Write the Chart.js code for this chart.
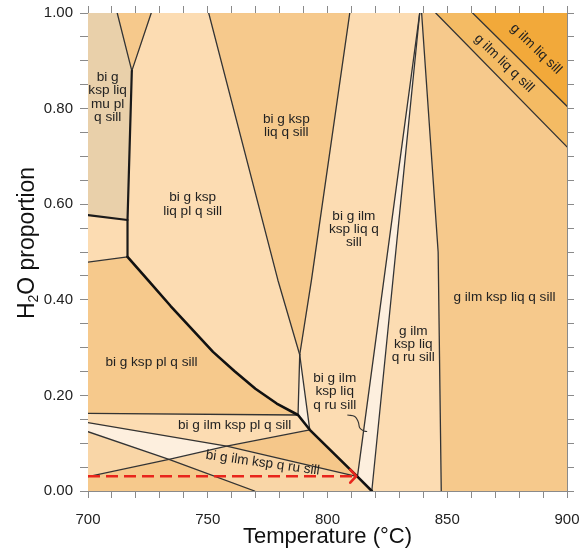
<!DOCTYPE html>
<html>
<head>
<meta charset="utf-8">
<script src="https://cdn.jsdelivr.net/npm/chart.js@4.4.1/dist/chart.umd.min.js"></script>
<style>
  html, body { margin: 0; padding: 0; background: #ffffff; }
  #wrap { width: 587px; height: 550px; }
</style>
</head>
<body>
<div id="wrap"><canvas id="chart" width="587" height="550"></canvas></div>
<script>
// ---- Axes -----------------------------------------------------------------
const T_RANGE = [700, 900];
const H_RANGE = [0, 1];
const T_TICK_LABELS = [700, 750, 800, 850, 900];
const H_TICK_LABELS = [0.0, 0.2, 0.4, 0.6, 0.8, 1.0];

// ---- Corner and junction points of the field boundaries, [T (°C), H2O] --
const pTopLeft    = [700.0, 1.000];
const pTopRight   = [900.0, 1.000];
const pBotLeft    = [700.0, 0.000];
const pBotRight   = [900.0, 0.000];
const pMuTop1     = [712.2, 1.000];
const pMuTop2     = [726.4, 1.000];
const pMuKink     = [718.3, 0.879];
const pMuBase     = [716.5, 0.567];
const pMuLeft     = [700.0, 0.577];
const pPlCorner   = [716.5, 0.490];
const pPlLeft     = [700.0, 0.479];
const pKspTop1    = [750.4, 1.000];
const pKspMid1    = [779.3, 0.441];
const pKspTip     = [788.4, 0.285];
const pKspTop2    = [809.3, 1.000];
const pKspMid2    = [793.3, 0.441];
const pIlmIn      = [787.7, 0.159];
const pRuIn       = [792.6, 0.128];
const pArrowTip   = [812.5, 0.030];
const pBiOut      = [818.5, 0.000];
const pSliverTop  = [838.5, 1.000];
const pBiOutTop   = [839.3, 1.000];
const pKspOutMid  = [846.2, 0.500];
const pKspOut     = [847.5, 0.000];
const pQTop       = [845.2, 1.000];
const pQRight     = [900.0, 0.720];
const pSillTop    = [860.6, 1.000];
const pSillRight  = [900.0, 0.805];
const pIlmLeft    = [700.0, 0.1625];
const pL1Left     = [700.0, 0.143];
const pL3Left     = [700.0, 0.124];
const pL2Left     = [700.0, 0.030];
const pX12        = [757.9, 0.094];
const pX23        = [733.8, 0.066];
const pL3Bot      = [769.6, 0.000];

// plagioclase-out curve (heavy line)
const plOutCurve = [pPlCorner, [725.6, 0.438], [734.5, 0.387], [743.3, 0.339],
                    [752.2, 0.291], [761.1, 0.251], [769.9, 0.214], [778.8, 0.183], pIlmIn];

// ---- Stability fields (closed polygons) -----------------------------------
const fieldMu        = [pTopLeft, pMuTop1, pMuKink, pMuBase, pMuLeft];
const fieldTopWedge  = [pMuTop1, pMuTop2, pMuKink];
const fieldLiqPl     = [pMuTop2, pKspTop1, pKspMid1, pKspTip, ...plOutCurve.slice().reverse(), pMuBase, pMuKink];
const fieldLeftStrip = [pMuLeft, pMuBase, pPlCorner, pPlLeft];
const fieldKspPl     = [pPlLeft, ...plOutCurve, pIlmLeft];
const fieldKspLiq    = [pKspTop1, pKspTop2, pKspMid2, pKspTip, pKspMid1];
const fieldWedge     = [pKspTip, pRuIn, pIlmIn];
const fieldIlmLiq    = [pKspTop2, pSliverTop, pArrowTip, pRuIn, pKspTip, pKspMid2];
const fieldSliver    = [pSliverTop, pBiOut, pArrowTip];
const fieldRuLiq     = [pSliverTop, pBiOutTop, pKspOutMid, pKspOut, pBiOut];
const fieldGIlmKsp   = [pBiOutTop, pQTop, pQRight, pBotRight, pKspOut, pKspOutMid];
const fieldQBand     = [pQTop, pSillTop, pSillRight, pQRight];
const fieldSillCorner= [pSillTop, pTopRight, pSillRight];
const fieldIlmPl     = [pIlmLeft, pIlmIn, pRuIn, pX12, pL1Left];
const fieldPale      = [pL1Left, pX12, pX23, pL3Left];
const fieldLeftTri   = [pL3Left, pX23, pL2Left];
const fieldBotLeft   = [pL2Left, pX23, pL3Bot, pBotLeft];
const fieldDarkTri   = [pX12, pRuIn, pArrowTip];
const fieldRuPl      = [pX23, pX12, pArrowTip, pBiOut, pL3Bot];

// ---- Boundary lines -------------------------------------------------------
const thinLines = [
  [pMuTop1, pMuKink], [pMuTop2, pMuKink],
  [pPlLeft, pPlCorner],
  [pKspTop1, pKspMid1, pKspTip],
  [pKspTop2, pKspMid2, pKspTip],
  [pKspTip, pIlmIn], [pKspTip, pRuIn],
  [pSliverTop, pArrowTip], [pSliverTop, pBiOut],
  [pBiOutTop, pKspOutMid, pKspOut],
  [pQTop, pQRight], [pSillTop, pSillRight],
  [pIlmLeft, pIlmIn],
  [pL1Left, pX12, pArrowTip],
  [pL2Left, pX23, pX12, pRuIn],
  [pL3Left, pX23, pL3Bot]
];
const mediumLines = [[pMuLeft, pMuBase], [pMuKink, pMuBase, pPlCorner]];
const heavyLines  = [[...plOutCurve, pRuIn, pArrowTip, pBiOut]];

// heating path (red arrow) and the leader to the thin field
const heatingPath = [[700.0, 0.031], [812.0, 0.031]];
const leaderLine  = [[808.45, 0.159], [811.4, 0.1559], [812.85, 0.1444],
                     [813.5, 0.1318], [815.15, 0.1255], [816.4, 0.1245]];

// ---- Field labels ---------------------------------------------------------
const fieldLabels = [
  { lines: ['bi g', 'ksp liq', 'mu pl', 'q sill'], at: [708.2, 0.8236], angle: 0 },
  { lines: ['bi g ksp', 'liq pl q sill'], at: [743.7, 0.5998], angle: 0 },
  { lines: ['bi g ksp', 'liq q sill'], at: [782.8, 0.7647], angle: 0 },
  { lines: ['bi g ilm', 'ksp liq q', 'sill'], at: [811.0, 0.5477], angle: 0 },
  { lines: ['g ilm', 'ksp liq', 'q ru sill'], at: [835.8, 0.3071], angle: 0 },
  { lines: ['bi g ilm', 'ksp liq', 'q ru sill'], at: [803.0, 0.2077], angle: 0 },
  { lines: ['g ilm ksp liq q sill'], at: [873.9, 0.4059], angle: 0 },
  { lines: ['g ilm liq q sill'], at: [873.7, 0.8948], angle: 44 },
  { lines: ['g ilm liq sill'], at: [887.0, 0.9247], angle: 44 },
  { lines: ['bi g ksp pl q sill'], at: [726.5, 0.2688], angle: 0 },
  { lines: ['bi g ilm ksp pl q sill'], at: [761.2, 0.1380], angle: 0 },
  { lines: ['bi g ilm ksp q ru sill'], at: [772.9, 0.0586], angle: 8 }
];

// ---- Styling --------------------------------------------------------------
const FONT = "'Liberation Sans', Arial, Helvetica, sans-serif";
const C_PEACH = '#fcdcb2', C_TAN = '#f6c98c', C_GREY = '#e9d0aa', C_PALE = '#fdefde';
const C_BAND = '#f4bb64', C_ORANGE = '#f2a93a', C_PEACH2 = '#f9d6a7', C_TAN2 = '#f5c78a';
const AXIS_GREY = '#8a8a8a';

const toXY = pts => pts.map(p => ({ x: p[0], y: p[1] }));

function fieldSet(pts, color) {
  return {
    data: toXY(pts), showLine: true, fill: 'shape', backgroundColor: color,
    borderColor: color, borderWidth: 0.8, pointRadius: 0, tension: 0, order: 4
  };
}
function lineSet(pts, width, color, order) {
  return {
    data: toXY(pts), showLine: true, fill: false, borderColor: color,
    borderWidth: width, pointRadius: 0, tension: 0, order: order,
    borderJoinStyle: 'round', borderCapStyle: 'round'
  };
}

const datasets = [
  fieldSet(fieldMu, C_GREY),
  fieldSet(fieldTopWedge, C_TAN),
  fieldSet(fieldLiqPl, C_PEACH),
  fieldSet(fieldLeftStrip, C_PEACH),
  fieldSet(fieldKspPl, C_TAN),
  fieldSet(fieldKspLiq, C_TAN),
  fieldSet(fieldWedge, C_PALE),
  fieldSet(fieldIlmLiq, C_PEACH),
  fieldSet(fieldSliver, C_PALE),
  fieldSet(fieldRuLiq, C_PEACH),
  fieldSet(fieldGIlmKsp, C_TAN),
  fieldSet(fieldQBand, C_BAND),
  fieldSet(fieldSillCorner, C_ORANGE),
  fieldSet(fieldIlmPl, C_PEACH),
  fieldSet(fieldPale, C_PALE),
  fieldSet(fieldLeftTri, C_PEACH2),
  fieldSet(fieldBotLeft, C_TAN),
  fieldSet(fieldDarkTri, C_TAN2),
  fieldSet(fieldRuPl, C_PEACH2)
];
thinLines.forEach(l => datasets.push(lineSet(l, 1.3, '#333333', 3)));
mediumLines.forEach(l => datasets.push(lineSet(l, 2.2, '#1a1a1a', 2)));
heavyLines.forEach(l => datasets.push(lineSet(l, 2.6, '#111111', 2)));
const leaderSet = lineSet(leaderLine, 1.1, '#333333', 1);
leaderSet.tension = 0.4;
datasets.push(leaderSet);
const arrowSet = lineSet(heatingPath, 2.6, '#e8251c', 0);
arrowSet.borderDash = [12, 6];
arrowSet.borderCapStyle = 'butt';
datasets.push(arrowSet);
const ARROW_INDEX = datasets.length - 1;

// field names and the arrowhead, placed through the chart scales
const annotate = {
  id: 'annotate',
  afterDatasetsDraw(chart) {
    const ctx = chart.ctx, xs = chart.scales.x, ys = chart.scales.y;
    ctx.save();
    ctx.fillStyle = '#222222';
    ctx.font = '13.6px ' + FONT;
    ctx.textAlign = 'center';
    ctx.textBaseline = 'middle';
    const lh = 13.4;
    fieldLabels.forEach(lab => {
      const px = xs.getPixelForValue(lab.at[0]);
      const py = ys.getPixelForValue(lab.at[1]);
      ctx.save();
      ctx.translate(px, py);
      ctx.rotate(lab.angle * Math.PI / 180);
      const n = lab.lines.length;
      lab.lines.forEach((t, i) => ctx.fillText(t, 0, (i - (n - 1) / 2) * lh));
      ctx.restore();
    });
    // arrowhead at the end of the heating path
    const pts = chart.getDatasetMeta(ARROW_INDEX).data;
    const tip = pts[pts.length - 1];
    ctx.strokeStyle = '#e8251c';
    ctx.lineWidth = 2.6;
    ctx.lineCap = 'round';
    ctx.lineJoin = 'round';
    ctx.beginPath();
    ctx.moveTo(tip.x - 6, tip.y - 6.5);
    ctx.lineTo(tip.x, tip.y);
    ctx.lineTo(tip.x - 6, tip.y + 6.5);
    ctx.stroke();
    ctx.restore();
  },
  afterDraw(chart) {
    // y-axis title with a true subscript
    const ctx = chart.ctx, ys = chart.scales.y;
    const big = '23px ' + FONT, small = '14px ' + FONT;
    ctx.save();
    ctx.fillStyle = '#111111';
    ctx.textBaseline = 'middle';
    ctx.textAlign = 'left';
    ctx.font = big;
    const wH = ctx.measureText('H').width, wRest = ctx.measureText('O proportion').width;
    ctx.font = small;
    const w2 = ctx.measureText('2').width;
    const total = wH + w2 + wRest;
    const cy = (ys.top + ys.bottom) / 2 - 9;
    ctx.translate(28, cy);
    ctx.rotate(-Math.PI / 2);
    let x = -total / 2;
    ctx.font = big; ctx.fillText('H', x, 0); x += wH;
    ctx.font = small; ctx.fillText('2', x, 6); x += w2;
    ctx.font = big; ctx.fillText('O proportion', x, 0);
    ctx.restore();
  }
};

const gridOpts = len => ({ drawOnChartArea: false, drawTicks: true, tickLength: len, color: AXIS_GREY, lineWidth: 1 });
const borderOpts = { display: true, color: AXIS_GREY, width: 1 };
const isLabelled = (v, list) => list.some(t => Math.abs(t - v) < 1e-6);
// fixed axis boxes so the plot area sits at a fixed place
const fixBox = (w, h) => s => {
  if (w !== null) s.width = w;
  if (h !== null) s.height = h;
  s.paddingLeft = 0; s.paddingRight = 0; s.paddingTop = 0; s.paddingBottom = 0;
};

new Chart(document.getElementById('chart'), {
  type: 'scatter',
  data: { datasets },
  plugins: [annotate],
  options: {
    responsive: false,
    devicePixelRatio: 1,
    animation: false,
    events: [],
    layout: { padding: 0 },
    plugins: { legend: { display: false }, tooltip: { enabled: false } },
    scales: {
      x: {
        type: 'linear', position: 'bottom', min: T_RANGE[0], max: T_RANGE[1],
        afterFit: fixBox(null, 59),
        ticks: {
          stepSize: 10, autoSkip: false, maxRotation: 0, padding: 13, color: '#222222',
          font: { family: FONT, size: 15 },
          callback: v => isLabelled(v, T_TICK_LABELS) ? String(v) : ''
        },
        grid: gridOpts(7), border: borderOpts,
        title: { display: true, text: 'Temperature (°C)', color: '#111111',
                 font: { family: FONT, size: 22 }, padding: { top: 0, bottom: 0 } }
      },
      xTop: {
        type: 'linear', position: 'top', min: T_RANGE[0], max: T_RANGE[1],
        afterFit: fixBox(null, 13),
        ticks: { stepSize: 10, autoSkip: false, display: false },
        grid: gridOpts(7), border: borderOpts
      },
      y: {
        type: 'linear', position: 'left', min: H_RANGE[0], max: H_RANGE[1],
        afterFit: fixBox(88, null),
        ticks: {
          stepSize: 0.05, autoSkip: false, padding: 7, color: '#222222',
          font: { family: FONT, size: 15 },
          callback: v => isLabelled(v, H_TICK_LABELS) ? v.toFixed(2) : ''
        },
        grid: gridOpts(8), border: borderOpts
      },
      yRight: {
        type: 'linear', position: 'right', min: H_RANGE[0], max: H_RANGE[1],
        afterFit: fixBox(20, null),
        ticks: { stepSize: 0.05, autoSkip: false, display: false },
        grid: gridOpts(7), border: borderOpts
      }
    }
  }
});
</script>
</body>
</html>
